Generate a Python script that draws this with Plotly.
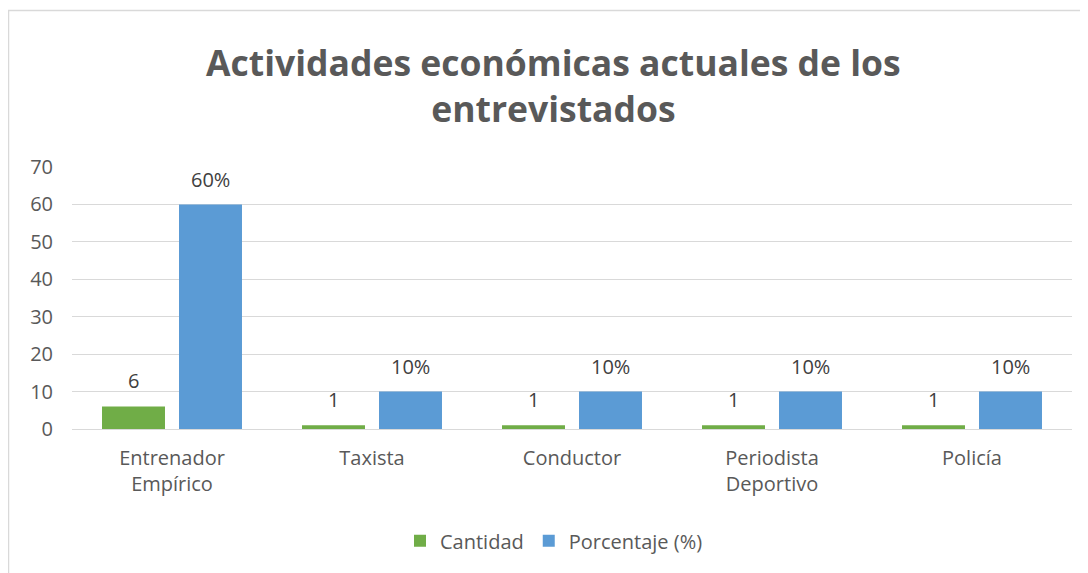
import plotly.graph_objects as go

categories = ["Entrenador<br>Empírico", "Taxista", "Conductor", "Periodista<br>Deportivo", "Policía"]
cantidad = [6, 1, 1, 1, 1]
porcentaje = [60, 10, 10, 10, 10]
porcentaje_labels = ["60%", "10%", "10%", "10%", "10%"]
y_ticks = [0, 10, 20, 30, 40, 50, 60, 70]

FONT = "Open Sans, sans-serif"
TXT = "#595959"

fig = go.Figure()
fig.add_trace(go.Bar(name="Cantidad", x=categories, y=cantidad,
                     marker=dict(color="#70ad47", line=dict(width=0))))
fig.add_trace(go.Bar(name="Porcentaje (%)", x=categories, y=porcentaje,
                     marker=dict(color="#5b9bd5", line=dict(width=0))))

for c, v in zip(categories, cantidad):
    fig.add_annotation(x=c, y=v, text=str(v), showarrow=False, xshift=-38.5, yshift=26,
                       font=dict(size=20, color="#404040", family=FONT))
for c, v, t in zip(categories, porcentaje, porcentaje_labels):
    fig.add_annotation(x=c, y=v, text=t, showarrow=False, xshift=38.5, yshift=25,
                       font=dict(size=20, color="#404040", family=FONT))

# chart border
fig.add_shape(type="rect", xref="paper", yref="paper", x0=-0.0635, x1=1.05, y0=-0.7, y1=1.597,
              line=dict(color="#d9d9d9", width=1.5), fillcolor="rgba(0,0,0,0)", layer="below")

fig.update_layout(
    width=1080, height=565,
    margin=dict(l=64, r=16, t=159, b=144),
    paper_bgcolor="white", plot_bgcolor="white",
    font=dict(family=FONT, size=20, color=TXT),
    title=dict(text="<b>Actividades económicas actuales de los<br>entrevistados</b>",
               x=0.505, xanchor="center", y=1 - 68 / 565, yanchor="middle",
               font=dict(size=35.5, color=TXT, family=FONT)),
    barmode="group", bargap=0.23, bargroupgap=0.182,
    showlegend=True,
    legend=dict(orientation="h", x=0.482, xanchor="center", y=-0.427, yanchor="middle",
                font=dict(size=20, color=TXT, family=FONT), itemwidth=30),
    xaxis=dict(showgrid=False, showline=True, linecolor="#d9d9d9", linewidth=1,
               ticklabelstandoff=11,
               tickfont=dict(size=20, color=TXT, family=FONT)),
    yaxis=dict(range=[0, 70], tickvals=y_ticks, showgrid=True, gridcolor="#d9d9d9", gridwidth=1,
               zeroline=False, showline=False, ticklabelstandoff=18,
               tickfont=dict(size=20, color=TXT, family=FONT)),
)

fig.write_html("out.html")
